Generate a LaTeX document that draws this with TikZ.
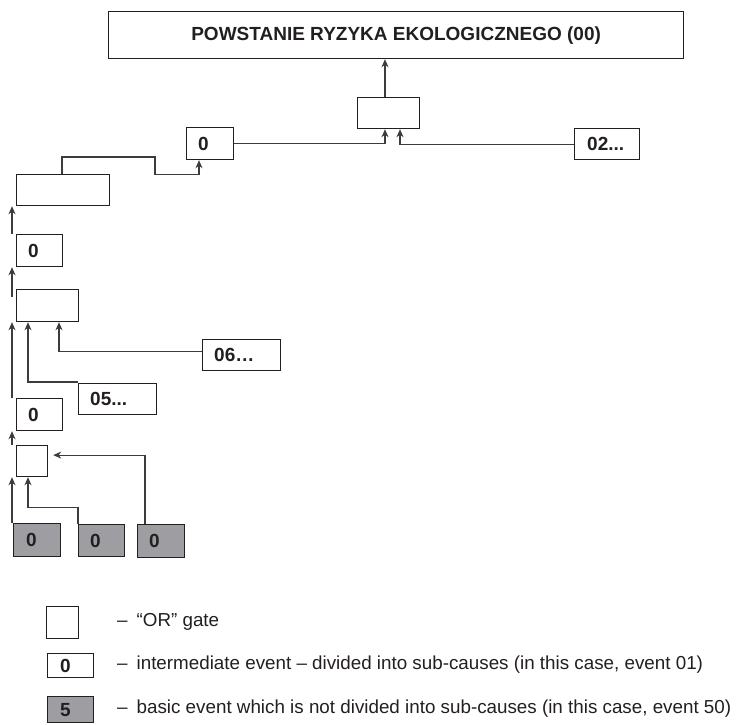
\documentclass[tikz,border=0pt]{standalone}
\usepackage{fontspec}
\setmainfont{Liberation Sans}
\usetikzlibrary{arrows.meta,calc}
\definecolor{edge}{RGB}{35,31,32}
\definecolor{conn}{RGB}{60,60,60}
\definecolor{basicfill}{RGB}{158,158,162}
\tikzset{
  box/.style={draw=edge,line width=1.2pt,rectangle,inner sep=0pt,anchor=north west,fill=white},
  basicbox/.style={box,fill=basicfill},
  lbl/.style={anchor=west,inner sep=0pt,font=\fontsize{19}{22}\selectfont\bfseries,text=edge},
  legtxt/.style={anchor=west,inner sep=0pt,font=\fontsize{18.8}{22}\selectfont,text=edge},
  arr/.style={draw=conn,line width=1.1pt,-{Stealth[length=8pt,width=7pt,inset=2.5pt]}},
  ln/.style={draw=conn,line width=1.1pt}
}
\begin{document}
\begin{tikzpicture}[x=1pt,y=-1pt]
\useasboundingbox (0,0) rectangle (738,724);
% top event
\node[box,minimum width=575,minimum height=47] (top) at (108,11) {};
\node[anchor=center,inner sep=0pt,font=\fontsize{19}{22}\selectfont\bfseries,text=edge] (toptxt) at (top.center) {POWSTANIE RYZYKA EKOLOGICZNEGO (00)};
% gate 1
\node[box,minimum width=62,minimum height=31] (g1) at (357,97) {};
% event 01
\node[box,minimum width=47,minimum height=32] (e01) at (186,127) {};
\node[lbl] (e01t) at ($(e01.west)+(12,0)$) {0};
% event 02
\node[box,minimum width=65,minimum height=31] (e02) at (574,128) {};
\node[lbl] (e02t) at ($(e02.west)+(13,0)$) {02...};
% wide gate
\node[box,minimum width=93,minimum height=31] (w1) at (16,174) {};
% event 0 (second)
\node[box,minimum width=46,minimum height=32] (e0b) at (16,234) {};
\node[lbl] (e0bt) at ($(e0b.west)+(12,0)$) {0};
% gate 2
\node[box,minimum width=62,minimum height=32] (g2) at (16,289) {};
% 06
\node[box,minimum width=78,minimum height=31] (n06) at (202,339) {};
\node[lbl] (n06t) at ($(n06.west)+(12,0)$) {06…};
% 05
\node[box,minimum width=78,minimum height=31] (n05) at (78,383) {};
\node[lbl] (n05t) at ($(n05.west)+(12,0)$) {05...};
% event 0 (third)
\node[box,minimum width=46,minimum height=32] (e0c) at (16,398) {};
\node[lbl] (e0ct) at ($(e0c.west)+(12,0)$) {0};
% gate 3
\node[box,minimum width=31,minimum height=31] (g3) at (16,445) {};
% basic events
\node[basicbox,minimum width=47,minimum height=33] (b1) at (13,523) {};
\node[lbl] (b1t) at ($(b1.west)+(13,0)$) {0};
\node[basicbox,minimum width=46,minimum height=32] (b2) at (78,524) {};
\node[lbl] (b2t) at ($(b2.west)+(12,0)$) {0};
\node[basicbox,minimum width=47,minimum height=33] (b3) at (137,524) {};
\node[lbl] (b3t) at ($(b3.west)+(12,0)$) {0};

% connectors
\draw[arr] ($(g1.north west)+(28,0)$) -- ($(top.south west)+(277,0)$);
\draw[arr] (e01.east) -| ($(g1.south west)+(28,0)$);
\draw[arr] (e02.west) -| ($(g1.south west)+(43,0)$);
\coordinate (c1) at (155,157);
\draw[arr] ($(w1.north west)+(46,0)$) |- (c1) |- ($(e01.south west)+(13,14)$) -- ($(e01.south west)+(13,0)$);
\draw[arr] ($(e0b.north west)+(-4,0)$) -- ($(w1.south west)+(-4,0)$);
\draw[arr] ($(g2.north west)+(-4,8)$) -- ($(e0b.south west)+(-4,0)$);
\draw[arr] ($(e0c.north west)+(-4,0)$) -- ($(g2.south west)+(-4,0)$);
\draw[arr] ($(n05.north west)+(0,-1)$) -| ($(g2.south west)+(12,0)$);
\draw[arr] ($(n06.west)+(0,-4)$) -| ($(g2.south west)+(43,0)$);
\draw[arr] ($(g3.north west)+(-4,0)$) -- ($(e0c.south west)+(-4,0)$);
\draw[arr] ($(b1.north west)+(-1,0)$) -- ($(g3.south west)+(-4,0)$);
\draw[arr] (b2.north west) |- ($(g3.south west)+(12,30)$) -- ($(g3.south west)+(12,0)$);
\draw[arr] ($(b3.north west)+(8,0)$) |- ($(g3.east)+(5,-6)$);

% legend
\node[box,minimum width=32,minimum height=32] (lg) at (46,606) {};
\node[legtxt] (lgt) at (117,622) {–\hspace{9pt}“OR” gate};
\node[box,minimum width=46,minimum height=24] (le) at (47,653) {};
\node[lbl] (let) at ($(le.west)+(13,0)$) {0};
\node[legtxt] (lett) at (117,665) {–\hspace{9pt}intermediate event – divided into sub-causes (in this case, event 01)};
\node[basicbox,minimum width=46,minimum height=26] (lb) at (47,696) {};
\node[lbl] (lbt) at ($(lb.west)+(13,0)$) {5};
\node[legtxt] (lbtt) at (117,709) {–\hspace{9pt}basic event which is not divided into sub-causes (in this case, event 50)};
\end{tikzpicture}
\end{document}
